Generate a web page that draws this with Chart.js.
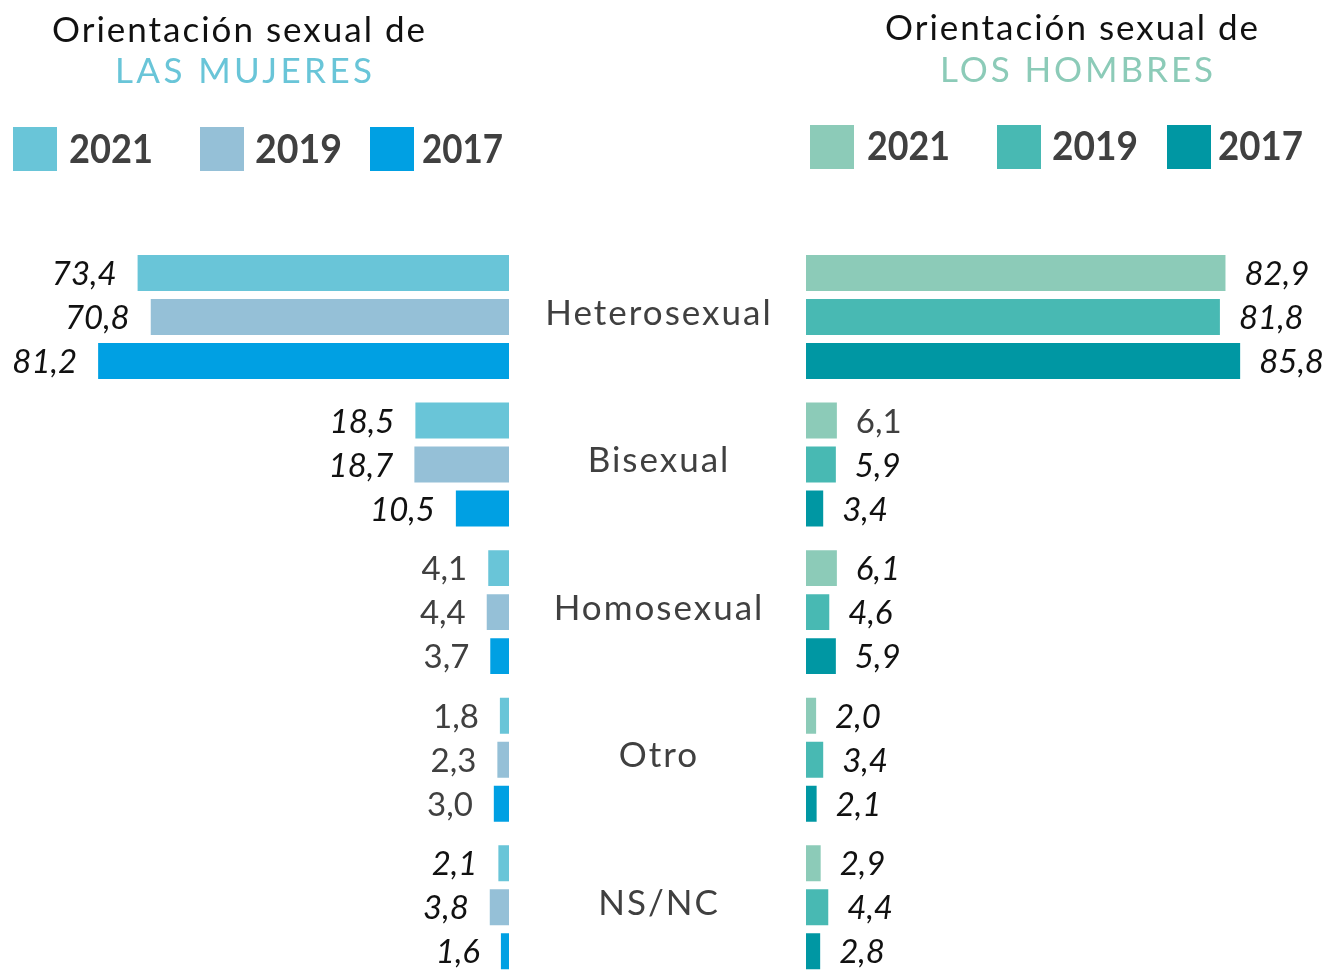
<!DOCTYPE html>
<html>
<head>
<meta charset="utf-8">
<script src="https://cdn.jsdelivr.net/npm/chart.js@4.4.1/dist/chart.umd.min.js"></script>
<style>
  html, body { margin: 0; padding: 0; background: #ffffff; overflow: hidden; width: 1323px; height: 971px; }
  .layer { position: absolute; left: 0; top: 0; width: 1323px; height: 981px; }
</style>
</head>
<body>
<div class="layer"><canvas id="women" width="1323" height="981"></canvas></div>
<div class="layer"><canvas id="men" width="1323" height="981"></canvas></div>
<script>
// ---------- DATA ----------
const categories = ['Heterosexual', 'Bisexual', 'Homosexual', 'Otro', 'NS/NC'];
const years = ['2021', '2019', '2017'];
const women2021 = [73.4, 18.5, 4.1, 1.8, 2.1];
const women2019 = [70.8, 18.7, 4.4, 2.3, 3.8];
const women2017 = [81.2, 10.5, 3.7, 3.0, 1.6];
const men2021 = [82.9, 6.1, 6.1, 2.0, 2.9];
const men2019 = [81.8, 5.9, 4.6, 3.4, 4.4];
const men2017 = [85.8, 3.4, 5.9, 2.1, 2.8];

// ---------- STYLE ----------
const womenColors = ['#69C5D8', '#95C0D7', '#00A0E3'];
const menColors = ['#8CCBB8', '#48B9B3', '#0097A3'];
// labels drawn upright (dataset index, category index)
const uprightWomen = ['0-2', '1-2', '2-2', '0-3', '1-3', '2-3'];
const uprightMen = ['0-1'];

const FONT = 'Lato, "Noto Sans", sans-serif';
const PX_PER_UNIT = 5.06;
const TOP = 243.25;
const W_RIGHT_EDGE = 509;
const W_LEFT = 9;
const M_LEFT = 806;

function fitText(ctx, text, x, y, target, align) {
  ctx.save();
  ctx.letterSpacing = '0px';
  const w = ctx.measureText(text).width;
  let sx = x;
  if (w < target) {
    const ls = (target - w) / Math.max(1, text.length - 1);
    ctx.letterSpacing = ls + 'px';
  }
  ctx.textAlign = 'left';
  if (align === 'center') sx = x - target / 2;
  if (w > target) ctx.fillText(text, sx, y, target);
  else ctx.fillText(text, sx, y);
  ctx.restore();
}

function fmt(v) { return v.toFixed(1).replace('.', ','); }

function makePlugin(side) {
  return {
    id: 'custom_' + side,
    afterDatasetsDraw(chart) {
      const ctx = chart.ctx;
      const upright = side === 'women' ? uprightWomen : uprightMen;
      ctx.save();
      chart.data.datasets.forEach((ds, di) => {
        const meta = chart.getDatasetMeta(di);
        meta.data.forEach((bar, i) => {
          const key = di + '-' + i;
          const up = upright.includes(key);
          ctx.font = (up ? '' : 'italic ') + '33px ' + FONT;
          ctx.fillStyle = up ? '#404040' : '#111111';
          ctx.textBaseline = 'alphabetic';
          const y = bar.y + 12;
          if (side === 'women') {
            ctx.textAlign = 'right';
            ctx.fillText(fmt(ds.data[i]), bar.x - 21, y);
          } else {
            ctx.textAlign = 'left';
            ctx.fillText(fmt(ds.data[i]), bar.x + 19, y);
          }
        });
      });
      // category labels (drawn once, on men chart)
      if (side === 'men') {
        const yScale = chart.scales.y;
        ctx.font = '35px ' + FONT;
        ctx.fillStyle = '#404040';
        ctx.textBaseline = 'alphabetic';
        chart.data.labels.forEach((lab, i) => {
          const y = yScale.getPixelForValue(i) - 5 + 12.5;
          ctx.textAlign = 'center';
          ctx.letterSpacing = '2px';
          ctx.fillText(lab, 659, y);
          ctx.letterSpacing = '0px';
        });
      }
      // titles
      ctx.font = '35px ' + FONT;
      ctx.fillStyle = '#111111';
      if (side === 'women') {
        fitText(ctx, 'Orientación sexual de', 52, 42, 373);
        ctx.fillStyle = '#69C5D8';
        fitText(ctx, 'LAS MUJERES', 115, 83, 257);
      } else {
        fitText(ctx, 'Orientación sexual de', 885, 40, 373);
        ctx.fillStyle = '#8CCBB8';
        fitText(ctx, 'LOS HOMBRES', 940, 82, 273);
      }
      // legend
      const sq = side === 'women' ? [13, 200, 370] : [810, 997, 1167];
      const tx = side === 'women' ? [69, 255, 422] : [867, 1052, 1218];
      const tw = side === 'women' ? [84, 87, 81] : [83, 86, 85];
      const sy = side === 'women' ? 127 : 125;
      const by = side === 'women' ? 163 : 160;
      chart.data.datasets.forEach((ds, di) => {
        ctx.fillStyle = ds.backgroundColor;
        ctx.fillRect(sq[di], sy, 44, 44);
        ctx.fillStyle = '#404040';
        ctx.font = 'bold 41px ' + FONT;
        fitText(ctx, ds.label, tx[di], by, tw[di]);
      });
      ctx.restore();
    }
  };
}

function makeChart(id, side, series, colors) {
  const isW = side === 'women';
  const padLeft = isW ? W_LEFT : M_LEFT;
  const padRight = isW ? 1323 - W_RIGHT_EDGE : 0;
  const areaW = 1323 - padLeft - padRight;
  return new Chart(document.getElementById(id), {
    type: 'bar',
    data: {
      labels: categories,
      datasets: series.map((s, k) => ({
        label: years[k],
        data: s,
        backgroundColor: colors[k],
        borderWidth: 0,
        categoryPercentage: 0.8946,
        barPercentage: 0.818
      }))
    },
    options: {
      indexAxis: 'y',
      responsive: false,
      animation: false,
      devicePixelRatio: 1,
      layout: { padding: { left: padLeft, right: padRight, top: TOP, bottom: 0 } },
      plugins: { legend: { display: false }, tooltip: { enabled: false } },
      scales: {
        x: { type: 'linear', min: 0, max: areaW / PX_PER_UNIT, reverse: isW, display: false },
        y: { type: 'category', display: false, grid: { display: false } }
      }
    },
    plugins: [makePlugin(side)]
  });
}

makeChart('women', 'women', [women2021, women2019, women2017], womenColors);
makeChart('men', 'men', [men2021, men2019, men2017], menColors);
</script>
</body>
</html>
